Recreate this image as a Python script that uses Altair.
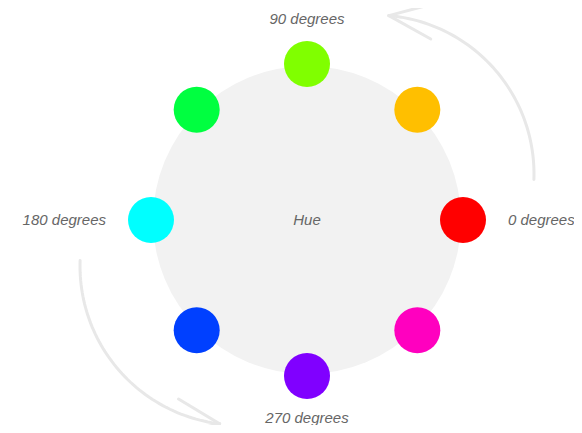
import altair as alt
import pandas as pd
import numpy as np

# ---- data ----
angles = [0, 45, 90, 135, 180, 225, 270, 315]
colors = ["#ff0000", "#ffbf00", "#80ff00", "#00ff40",
          "#00ffff", "#0040ff", "#8000ff", "#ff00bf"]
label_angles = [0, 90, 180, 270]
label_texts = ["0 degrees", "90 degrees", "180 degrees", "270 degrees"]
center_text = ["Hue"]

# ---- layout constants (view pixels) ----
W, H = 566, 417
CX, CY = 299, 212
R_RING = 156
R_LABEL = 201
BG_R = 154
DOT_R = 23
FONT = "Liberation Sans"
FS = 15
TXT = "#666666"

xs = alt.Scale(domain=[0, W], nice=False, zero=False)
ys = alt.Scale(domain=[0, H], nice=False, zero=False, reverse=True)
noax = None

dots = pd.DataFrame({"angle": angles, "color": colors})
labels = pd.DataFrame({"angle": label_angles, "text": label_texts})

# Vega circle symbol: radius = sqrt(size) / 2
bg = alt.Chart(pd.DataFrame({"t": center_text})).mark_point(
    shape="circle", filled=True, size=(2 * BG_R) ** 2, color="#f2f2f2", opacity=1
).encode(
    x=alt.X("cx:Q", scale=xs, axis=noax),
    y=alt.Y("cy:Q", scale=ys, axis=noax),
).transform_calculate(cx=str(CX), cy=str(CY))

hue = alt.Chart(pd.DataFrame({"t": center_text})).mark_text(
    font=FONT, fontStyle="italic", fontSize=FS, color=TXT,
    align="center", baseline="middle"
).encode(
    x=alt.X("cx:Q", scale=xs, axis=noax),
    y=alt.Y("cy:Q", scale=ys, axis=noax),
    text="t:N",
).transform_calculate(cx=str(CX), cy=str(CY))

dot_layer = alt.Chart(dots).mark_point(
    shape="circle", filled=True, size=(2 * DOT_R) ** 2, opacity=1
).encode(
    x=alt.X("x:Q", scale=xs, axis=noax),
    y=alt.Y("y:Q", scale=ys, axis=noax),
    color=alt.Color("color:N", scale=None),
).transform_calculate(
    x=f"{CX} + {R_RING} * cos(datum.angle * PI / 180)",
    y=f"{CY} - {R_RING} * sin(datum.angle * PI / 180)",
)

def lbl(align, filt):
    return alt.Chart(labels).transform_filter(filt).transform_calculate(
        x=f"{CX} + {R_LABEL} * cos(datum.angle * PI / 180)",
        y=f"min({CY} - {R_LABEL} * sin(datum.angle * PI / 180), {H - 7})",
    ).mark_text(
        font=FONT, fontStyle="italic", fontSize=FS, color=TXT,
        align=align, baseline="middle"
    ).encode(
        x=alt.X("x:Q", scale=xs, axis=noax),
        y=alt.Y("y:Q", scale=ys, axis=noax),
        text="text:N",
    )

lbl_left = lbl("left", "datum.angle == 0")
lbl_right = lbl("right", "datum.angle == 180")
lbl_center = lbl("center", "datum.angle == 90 || datum.angle == 270")

# ---- curved arrows (geometry built from constants) ----
ARC_R = 159
OFF = (68, -46)  # arc centre offset from ring centre (px, y down)
arcs = []
for k, (acx, acy, a0, a1) in enumerate([
    (CX + OFF[0], CY + OFF[1], -2, 85),
    (CX - OFF[0], CY - OFF[1], 178, 263),
]):
    t = np.linspace(a0, a1, 60)
    for i, a in enumerate(t):
        arcs.append({"arc": k, "i": i,
                     "x": acx + ARC_R * np.cos(np.radians(a)),
                     "y": acy - ARC_R * np.sin(np.radians(a))})
arc_df = pd.DataFrame(arcs)

heads = []
for k in range(2):
    sub = arc_df[arc_df.arc == k]
    tip = sub.iloc[-1]
    prev = sub.iloc[-4]
    d = np.array([tip.x - prev.x, tip.y - prev.y])
    d = d / np.linalg.norm(d)
    for s in (1, -1):
        ang = np.radians(22 * s)
        rot = np.array([[np.cos(ang), -np.sin(ang)], [np.sin(ang), np.cos(ang)]])
        b = -rot @ d * 48
        heads.append({"x": tip.x, "y": tip.y, "x2": tip.x + b[0], "y2": tip.y + b[1]})
head_df = pd.DataFrame(heads)

ARROW = "#e8e8e8"
arc_layer = alt.Chart(arc_df).mark_line(
    color=ARROW, strokeWidth=3, strokeCap="round"
).encode(
    x=alt.X("x:Q", scale=xs, axis=noax),
    y=alt.Y("y:Q", scale=ys, axis=noax),
    detail="arc:N",
    order="i:Q",
)
head_layer = alt.Chart(head_df).mark_rule(
    color=ARROW, strokeWidth=3, strokeCap="round"
).encode(
    x=alt.X("x:Q", scale=xs, axis=noax),
    y=alt.Y("y:Q", scale=ys, axis=noax),
    x2="x2:Q", y2="y2:Q",
)

chart = alt.layer(
    arc_layer, head_layer, bg, hue, dot_layer, lbl_left, lbl_right, lbl_center
).properties(
    width=W, height=H, padding=0, autosize=alt.AutoSizeParams(type="none")
).configure(background="white", view=alt.ViewConfig(stroke=None))

chart.save("out.html", embed_options={"renderer": "svg", "actions": False})
